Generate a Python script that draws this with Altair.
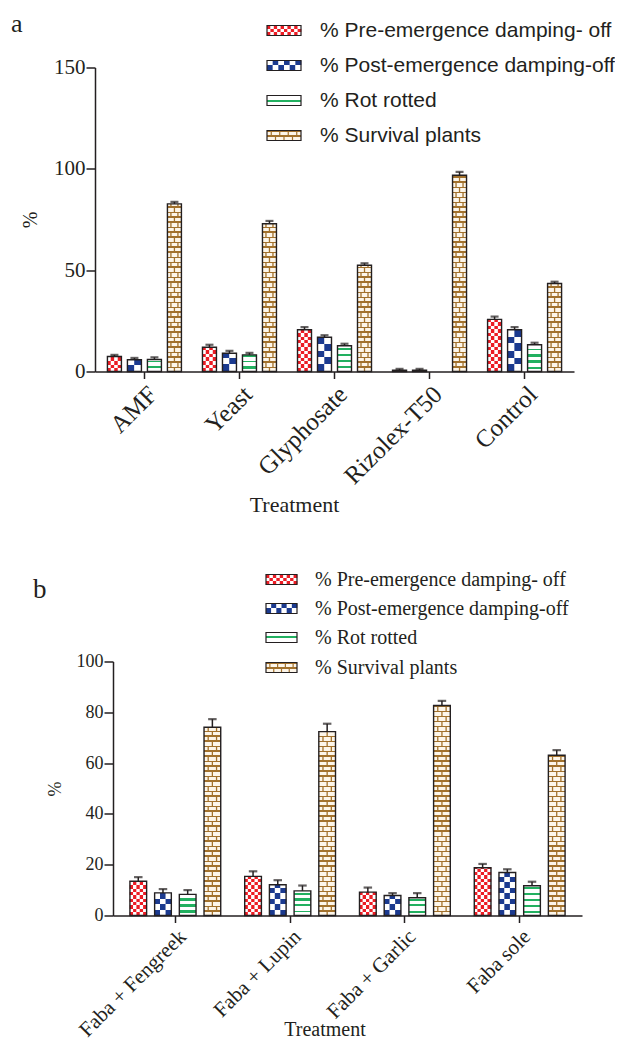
import altair as alt

# ---------------- data ----------------
series = ["% Pre-emergence damping- off", "% Post-emergence damping-off",
          "% Rot rotted", "% Survival plants"]

cat_a = ["AMF", "Yeast", "Glyphosate", "Rizolex-T50", "Control"]
pre_a = [7.4, 12.0, 20.6, 0.7, 25.7]
post_a = [5.8, 9.0, 16.9, 0.7, 20.6]
rot_a = [5.9, 8.2, 12.7, 0.0, 13.2]
surv_a = [82.7, 72.9, 52.4, 96.8, 43.4]
pre_err_a = [0.8, 1.2, 1.3, 0.6, 1.4]
post_err_a = [0.9, 1.2, 1.0, 0.6, 1.3]
rot_err_a = [1.1, 1.0, 1.0, 0.0, 1.0]
surv_err_a = [1.0, 1.4, 1.0, 1.7, 0.9]

cat_b = ["Faba + Fengreek", "Faba + Lupin", "Faba + Garlic", "Faba sole"]
pre_b = [13.5, 15.4, 9.2, 18.8]
post_b = [8.9, 12.1, 7.9, 16.9]
rot_b = [8.3, 9.7, 7.0, 11.7]
surv_b = [74.1, 72.4, 82.7, 63.1]
pre_err_b = [1.6, 2.0, 1.8, 1.5]
post_err_b = [1.5, 1.8, 0.9, 1.3]
rot_err_b = [1.7, 2.1, 1.8, 1.6]
surv_err_b = [3.2, 3.1, 1.8, 2.0]

# ---------------- styles ----------------
INK = "#231f20"
RED = "#ec1c24"
NAVY = "#1b3a8f"
GREEN = "#22b060"
BROWN = "#a2712c"
CREAM = "#fdf6ea"
CLEAR = "rgba(255,255,255,0)"
SERIF = "Liberation Serif"
SANS = "Liberation Sans"


def grad(H, pattern, start=0.0):
    """vertical hard-stop gradient, pattern measured in px from the bar bottom"""
    H = max(H, 0.01)
    segs = []
    d = start
    i = 0
    while d < H:
        L, c = pattern[i % len(pattern)]
        s, e = max(d, 0.0), min(d + L, H)
        if e > s:
            segs.append((s, e, c))
        d += L
        i += 1
    stops = []
    for s, e, c in reversed(segs):
        stops.append({"offset": round(1 - e / H, 4), "color": c})
        stops.append({"offset": round(1 - s / H, 4), "color": c})
    return {"gradient": "linear", "x1": 0, "y1": 0, "x2": 0, "y2": 1, "stops": stops}


def panel(cats, vals, errs, P):
    ppu = P["height"] / P["ymax"]
    W = P["bw"]
    x0p = P["x0"]
    xenc = alt.X("cat:N", sort=cats,
                 scale=alt.Scale(domain=cats, range=[x0p, P["width"]],
                                 paddingInner=0, paddingOuter=P["po"]),
                 axis=alt.Axis(title="Treatment", labelAngle=-45, labelFont=SERIF,
                               labelFontSize=P["xlab"], titleFont=SERIF,
                               titleFontSize=P["xtitle"], titleFontWeight="normal",
                               tickSize=7, labelPadding=P["xpad"],
                               titleX=P["tx"], titleY=P["ty"], titleAlign="center",
                               titleBaseline="middle"))
    ax_y = alt.Axis(title="%", values=P["yticks"], labelFont=SERIF,
                    labelFontSize=P["ylab"], titleFont=SERIF, titleFontSize=P["ytitle"],
                    titleFontWeight="normal", tickSize=9, labelPadding=1,
                    offset=-x0p,
                    titleX=P["yx"], titleY=P["height"] / 2, titleAlign="center",
                    titleBaseline="middle")
    yscale = alt.Scale(domain=[0, P["ymax"]], nice=False)
    yv = alt.Y("val:Q", scale=yscale, axis=ax_y)
    yt = alt.Y("top:Q", scale=yscale, axis=ax_y)

    layers = []
    outlines = []
    errl = []
    for i in range(4):
        off = (i - 1.5) * P["step"]
        rows = [{"cat": c, "val": v, "err": e, "top": v + e}
                for c, v, e in zip(cats, vals[i], errs[i]) if v > 0]

        def mk(width, xo, gfun):
            data = [dict(r, g=gfun(r["val"] * ppu)) for r in rows]
            return alt.Chart(alt.Data(values=data)).mark_bar(
                width=width, xOffset=xo).encode(
                x=xenc, y=yv, fill=alt.Fill("g:N", scale=None))

        if i in (0, 1):
            color = RED if i == 0 else NAVY
            ncol = P["cols"][i]
            cw = W / ncol
            for j in range(ncol):
                layers.append(mk(cw + 0.4, off - W / 2 + (j + 0.5) * cw,
                                 lambda H, j=j, cw=cw, color=color: grad(
                                     H, [(cw, color), (cw, "white")], start=-(j % 2) * cw)))
        elif i == 2:
            layers.append(mk(W, off, lambda H: grad(H, [(4.0, "white"), (2.0, GREEN)], start=-1.0)))
        else:
            layers.append(mk(W, off, lambda H: grad(H, [(3.2, CREAM), (1.8, BROWN)])))
            layers.append(mk(1.3, off, lambda H: grad(H, [(3.2, BROWN), (6.8, CLEAR)])))
            for q in (-W / 4, W / 4):
                layers.append(mk(1.3, off + q, lambda H: grad(H, [(3.2, BROWN), (6.8, CLEAR)], start=-5)))
        outlines.append(alt.Chart(alt.Data(values=rows)).mark_bar(
            width=W, xOffset=off, fillOpacity=0, stroke=INK, strokeWidth=1.4).encode(x=xenc, y=yv))
        erows = [r for r in rows if r["err"] > 0]
        errl.append(alt.Chart(alt.Data(values=erows)).mark_rule(
            xOffset=off, color=INK, strokeWidth=1.5).encode(x=xenc, y=yv, y2=alt.Y2("top:Q")))
        errl.append(alt.Chart(alt.Data(values=erows)).mark_tick(
            xOffset=off, color=INK, size=P["cap"], thickness=2.2, orient="horizontal").encode(x=xenc, y=yt))

    # ---- legend (patterned symbols) ----
    leg = []
    one = alt.Data(values=[{"k": 0}])
    lw, lh = P["lw"], P["lh"]
    x0 = P["lx"]

    def rect(xa, xb, ya, yb, g):
        return alt.Chart(one).mark_rect().encode(
            x=alt.value(xa), x2=alt.value(xb), y=alt.value(ya), y2=alt.value(yb),
            fill=alt.value(g))

    for i, name in enumerate(series):
        yc = P["ly"][i]
        ya, yb = yc - lh / 2, yc + lh / 2
        if i in (0, 1):
            color = RED if i == 0 else NAVY
            s = P["lsq"][i]
            ncol = round(lw / s)
            cw = lw / ncol
            for j in range(ncol):
                leg.append(rect(x0 + j * cw, x0 + (j + 1) * cw + 0.3, ya, yb,
                                grad(lh, [(s, color), (s, "white")], start=-(j % 2) * s)))
        elif i == 2:
            leg.append(rect(x0, x0 + lw, ya, yb,
                            grad(lh, [(4.0, "white"), (2.0, GREEN), (4.0, "white")])))
        else:
            leg.append(rect(x0, x0 + lw, ya, yb, grad(lh, [(3.2, CREAM), (1.8, BROWN)], start=0.2)))
            bwid = lw / 4
            for k in range(5):
                for jx, st in ((k * bwid, 0.2), (k * bwid + bwid / 2, -4.8)):
                    if 0 < jx < lw:
                        leg.append(rect(x0 + jx - 0.6, x0 + jx + 0.6, ya, yb,
                                        grad(lh, [(3.2, BROWN), (6.8, CLEAR)], start=st)))
        leg.append(alt.Chart(one).mark_rect(fillOpacity=0, stroke=INK, strokeWidth=1.2).encode(
            x=alt.value(x0), x2=alt.value(x0 + lw), y=alt.value(ya), y2=alt.value(yb)))
        leg.append(alt.Chart(alt.Data(values=[{"s": name}])).mark_text(
            align="left", baseline="middle", font=P["lfont"], fontSize=P["lsize"], color=INK).encode(
            x=alt.value(P["ltx"]), y=alt.value(yc), text="s:N"))

    letter = alt.Chart(one).mark_text(
        align="left", baseline="alphabetic", font=SERIF, fontSize=P["letsize"], color=INK).encode(
        x=alt.value(P["letx"]), y=alt.value(P["lety"]), text=alt.value(P["letter"]))

    return alt.layer(*layers, *outlines, *errl, *leg, letter).properties(
        width=P["width"], height=P["height"])


PA = dict(width=479, height=304, x0=0, ymax=150, yticks=[0, 50, 100, 150], po=0.02,
          bw=14, step=20, cols=(4, 2), cap=8, xlab=25, xpad=3, xtitle=22, ylab=21, ytitle=20,
          tx=199, ty=133, yx=-65,
          lx=172, lw=34, lh=10, ly=[-37, -2, 33, 68], lsq=(3.4, 5.7), ltx=225,
          lfont=SANS, lsize=21, letter="a", letx=-84, lety=-36, letsize=26)
PB = dict(width=487, height=254, x0=18, ymax=100, yticks=[0, 20, 40, 60, 80, 100], po=0.043,
          bw=16.7, step=24.7, cols=(5, 3), cap=8.5, xlab=21, xpad=3, xtitle=20, ylab=18, ytitle=18,
          tx=229.5, ty=114, yx=-58,
          lx=171, lw=31, lh=10, ly=[-82, -53, -24, 6], lsq=(3.4, 5.2), ltx=220,
          lfont=SERIF, lsize=20, letter="b", letx=-62, lety=-64, letsize=27)

pa = panel(cat_a, [pre_a, post_a, rot_a, surv_a], [pre_err_a, post_err_a, rot_err_a, surv_err_a], PA)
pb = panel(cat_b, [pre_b, post_b, rot_b, surv_b], [pre_err_b, post_err_b, rot_err_b, surv_err_b], PB)

chart = alt.vconcat(pa, pb, spacing=54).properties(
    padding={"left": 3, "top": 2.5, "right": 0, "bottom": 0}
).configure_view(stroke=None).configure_axis(
    domainColor=INK, tickColor=INK, labelColor=INK, titleColor=INK,
    domainWidth=1.5, tickWidth=1.5, grid=False)

chart.save("out.html", embed_options={"renderer": "svg", "actions": False})
